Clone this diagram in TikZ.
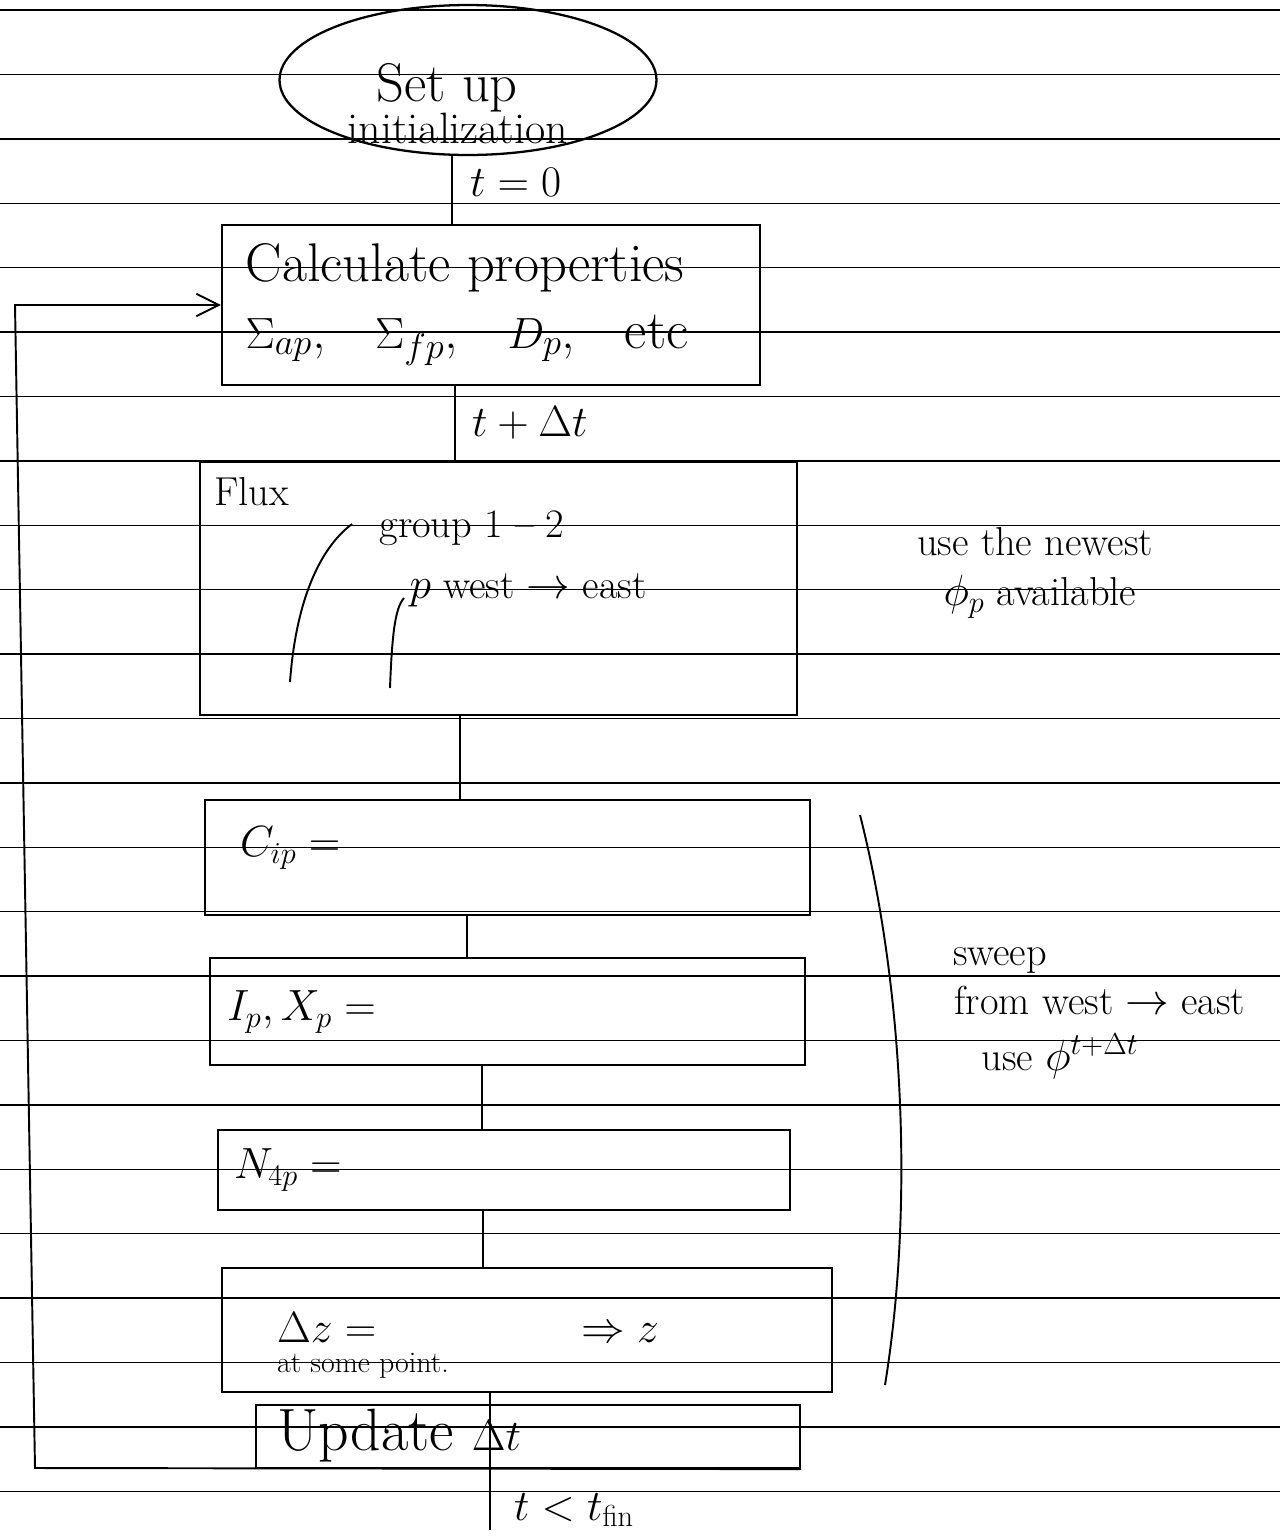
\documentclass[tikz,border=0pt]{standalone}
\usepackage{amsmath,amssymb}
\usepackage{tikz}
\usetikzlibrary{positioning,calc}
\usetikzlibrary{arrows.meta,shapes.geometric}
\tikzset{rule/.style={draw=black,line width=0.8pt}, box/.style={draw=black,rectangle,line width=1.3pt,inner sep=0pt}, link/.style={draw=black,line width=1.1pt}, big/.style={font=\fontsize{31}{35}\selectfont,inner sep=1pt}, mid/.style={font=\fontsize{23}{27}\selectfont,inner sep=1pt}, smalltxt/.style={font=\fontsize{17}{20}\selectfont,inner sep=1pt}}

\begin{document}
\begin{tikzpicture}[x=0.02cm,y=-0.02cm]
\useasboundingbox (0,0) rectangle (1280,1536);
\foreach \k in {0,...,23} \draw[rule] (0,{10+64.4*\k}) -- (1280,{10+64.4*\k});
\node[draw,ellipse,line width=1.3pt,minimum width=7.54cm,minimum height=3cm] (setup) at (468,80) {};
\node[big] (setuptxt) at (447,88) {Set up};
\node[mid,font=\fontsize{25}{29}\selectfont] (inittxt) at (458,128) {initialization};
\node[box,minimum width=10.76cm,minimum height=3.2cm] (calc) at (491,305) {};
\node[big] (calctxt) at (465,268) {Calculate properties};
\node[big] (calcsym) at (467,340) {$\Sigma_{ap}$,\ \ \ $\Sigma_{fp}$,\ \ \ $D_p$,\ \ \ etc};
\node[box,minimum width=11.94cm,minimum height=5.06cm] (flux) at (498.5,588.5) {};
\node[mid,anchor=west] (fluxtxt) at (212,492) {Flux};
\node[mid] (grptxt) at (472,528) {group 1 -- 2};
\node[mid] (dirtxt) at (528,590) {$p$ west $\rightarrow$ east};
\draw[link] (290,682) .. controls (296,600) and (320,548) .. (352,524);
\draw[link] (390,688) .. controls (392,635) and (395,608) .. (404,598);
\node[mid] (newtxt) at (1035,542) {use the newest};
\node[mid] (availtxt) at (1040,597) {$\phi_p$ available};
\node[box,minimum width=12.1cm,minimum height=2.3cm] (cip) at (507.5,857.5) {};
\node[mid,anchor=west] (ciptxt) at (238,848) {$C_{ip} =$};
\node[box,minimum width=11.9cm,minimum height=2.14cm] (ixp) at (507.5,1011.5) {};
\node[mid,anchor=west] (ixptxt) at (225,1012) {$I_p, X_p =$};
\node[box,minimum width=11.44cm,minimum height=1.6cm] (nfp) at (504,1170) {};
\node[mid,anchor=west] (nfptxt) at (232,1170) {$N_{4p} =$};
\node[box,minimum width=12.2cm,minimum height=2.48cm] (dz) at (527,1330) {};
\node[mid,anchor=west] (dztxt) at (275,1328) {$\Delta z =$};
\node[mid] (ztxt) at (620,1333) {$\Rightarrow z$};
\node[smalltxt,anchor=west] (pttxt) at (275,1366) {at some point.};
\node[box,minimum width=10.88cm,minimum height=1.26cm] (upd) at (528,1436.5) {};
\node[big,anchor=west,font=\fontsize{34}{38}\selectfont] (updtxt) at (275,1436) {Update $\Delta t$};
\draw[link] (860,815) .. controls (902,980) and (915,1200) .. (885,1385);
\node[mid] (swtxt) at (1000,960) {sweep};
\node[mid] (fromtxt) at (1100,1000) {from west $\rightarrow$ east};
\node[mid] (usetxt) at (1060,1056) {use $\phi^{t+\Delta t}$};
\coordinate (j1) at (452,0);
\coordinate (j2) at (455,0);
\coordinate (j3) at (460,0);
\coordinate (j4) at (467,0);
\coordinate (j5) at (482,0);
\coordinate (j6) at (483,0);
\coordinate (j7) at (490,0);
\coordinate (jend) at (490,1530);
\foreach \a/\b/\j in {setup/calc/j1,calc/flux/j2,flux/cip/j3,cip/ixp/j4,ixp/nfp/j5,nfp/dz/j6}
  \draw[link] (\a.south -| \j) -- (\b.north -| \j);
\draw[link] (dz.south -| j7) -- (jend);
\node[mid,anchor=west] (t0) at (468,182) {$t=0$};
\node[mid,anchor=west] (tdt) at (470,423) {$t+\Delta t$};
\node[mid,anchor=west] (tfin) at (512,1510) {$t<t_{\mathrm{fin}}$};
\coordinate (lpb) at (35,1468);
\coordinate (lpt) at (15,305);
\draw[link,-{Straight Barb[length=4.5mm,width=4.5mm]}] (upd.south east) -- (lpb) -- (lpt) -- (calc.west);
\end{tikzpicture}
\end{document}
